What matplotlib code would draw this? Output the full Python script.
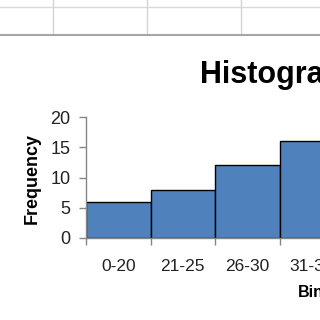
import matplotlib
matplotlib.use("Agg")
import matplotlib.pyplot as plt
from matplotlib.lines import Line2D

# 数据（从截图读取，只能看到前四个区间）
bins = ["0-20", "21-25", "26-30", "31-35"]
freq = [6, 8, 12, 16]
y_ticks = [0, 5, 10, 15, 20]

BAR_COLOR = "#4F81BD"
AXIS_COLOR = "#868686"
NARROW = ["Liberation Sans Narrow", "Liberation Sans", "DejaVu Sans"]
REGULAR = ["Liberation Sans", "DejaVu Sans"]

plt.rcParams["font.family"] = REGULAR

W = H = 320
fig = plt.figure(figsize=(3.2, 3.2), dpi=100)
fig.patch.set_facecolor("white")


def px(x, y):
    # 像素坐标 -> figure 坐标（y 从上往下）
    return x / W, 1 - y / H


# 上方 Excel 表格网格线
for gx in [53, 147, 241]:
    fig.add_artist(Line2D([gx / W, gx / W], [1, 1 - 35 / H], color="#d4d4d4", lw=1))
fig.add_artist(Line2D([0, 1], [1 - 6.5 / H] * 2, color="#d9d9d9", lw=1))
fig.add_artist(Line2D([0, 1], [1 - 35 / H] * 2, color="#a6a6a6", lw=1.5))

# 绘图区：右侧超出画布，被裁掉
left, bottom = px(86, 238)
_, top = px(0, 117)
ax = fig.add_axes([left, bottom, 258 / W, top - bottom])

x = list(range(len(bins)))
ax.bar(x, freq, width=1.0, color=BAR_COLOR, edgecolor="black", linewidth=1)

ax.set_xlim(-0.5, len(bins) - 0.5)
ax.set_ylim(0, 20)
ax.set_yticks(y_ticks)
ax.set_xticks(x)
ax.set_xticklabels(bins)
ax.set_xticks([i - 0.5 for i in range(len(bins) + 1)], minor=True)

for s in ["top", "right"]:
    ax.spines[s].set_visible(False)
for s in ["left", "bottom"]:
    ax.spines[s].set_color(AXIS_COLOR)
    ax.spines[s].set_linewidth(1)

ax.tick_params(axis="y", length=5, width=1, color=AXIS_COLOR, pad=6,
               labelsize=13, labelcolor="#222222")
ax.tick_params(axis="x", which="major", length=0, pad=15,
               labelsize=12.5, labelcolor="#222222")
ax.tick_params(axis="x", which="minor", length=5, width=1, color=AXIS_COLOR)

# 标题、轴标题
tx, ty = px(200, 83)
fig.text(tx, ty, "Histogram", fontsize=22, fontweight="bold", va="baseline",
         ha="left", family=NARROW)
fx, fy = px(32, 178)
fig.text(fx, fy, "Frequency", fontsize=13, fontweight="bold", rotation=90,
         va="center", ha="center")
bx, by = px(298, 297)
fig.text(bx, by, "Bin", fontsize=11.5, fontweight="bold", va="baseline", ha="left")

fig.savefig("out.png", dpi=100)
